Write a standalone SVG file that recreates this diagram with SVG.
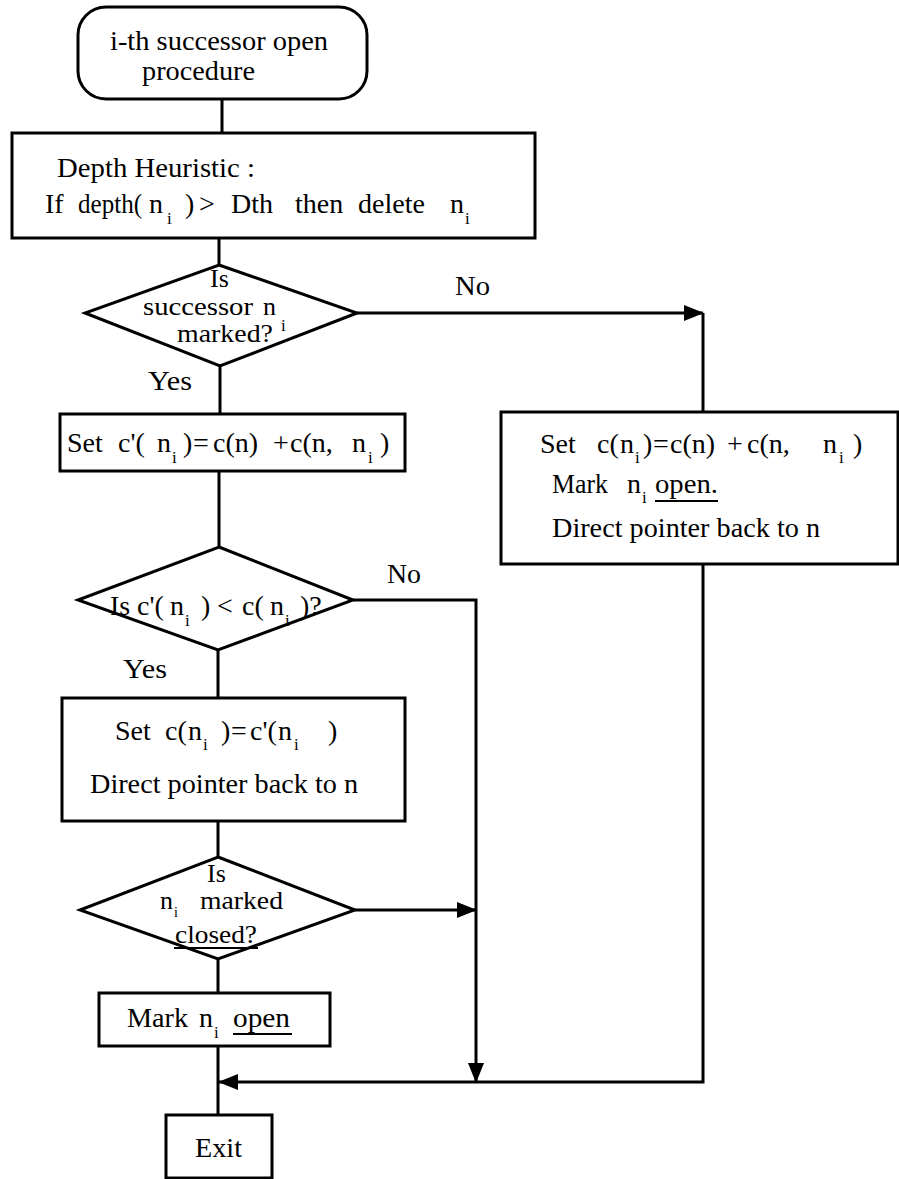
<svg xmlns="http://www.w3.org/2000/svg" width="899" height="1179" viewBox="0 0 899 1179">
<style>
.s{fill:#fff;stroke:#000;stroke-width:3}
.c{fill:none;stroke:#000;stroke-width:3}
text{font-family:"Liberation Serif","Times New Roman",serif;font-size:28px;fill:#000}
.d{font-size:26px}
.sub{font-size:17px}
.u{stroke:#000;stroke-width:2}
</style>
<defs>
<marker id="ah" markerWidth="20" markerHeight="16" refX="19" refY="8" orient="auto" markerUnits="userSpaceOnUse">
<path d="M0,0 L20,8 L0,16 Z" fill="#000"/>
</marker>
</defs>
<g id="connectors">
<path class="c" d="M222,99 V133"/>
<path class="c" d="M219,238 V265"/>
<path class="c" d="M220,366 V414"/>
<path class="c" d="M357,313 H703" marker-end="url(#ah)"/>
<path class="c" d="M703,313 V412"/>
<path class="c" d="M219,471 V547"/>
<path class="c" d="M353,600 H476 V1082" marker-end="url(#ah)"/>
<path class="c" d="M218,650 V698"/>
<path class="c" d="M218,821 V857"/>
<path class="c" d="M355,910 H476" marker-end="url(#ah)"/>
<path class="c" d="M218,959 V993"/>
<path class="c" d="M218,1046 V1115"/>
<path class="c" d="M703,564 V1082 H219" marker-end="url(#ah)"/>
<text x="148" y="390" textLength="44" lengthAdjust="spacingAndGlyphs">Yes</text>
<text x="455" y="295" textLength="35" lengthAdjust="spacingAndGlyphs">No</text>
<text x="123" y="678" textLength="44" lengthAdjust="spacingAndGlyphs">Yes</text>
<text x="387" y="583" textLength="34" lengthAdjust="spacingAndGlyphs">No</text>
</g>
<g id="start">
<rect class="s" x="78" y="7" width="289" height="92" rx="28"/>
<text x="110" y="50" textLength="218" lengthAdjust="spacingAndGlyphs">i-th successor open</text>
<text x="142" y="80" textLength="113" lengthAdjust="spacingAndGlyphs">procedure</text>
</g>
<g id="depth">
<rect class="s" x="12" y="133" width="523" height="105"/>
<text x="57" y="177" textLength="198" lengthAdjust="spacingAndGlyphs">Depth Heuristic :</text>
<text x="45" y="213">If</text>
<text x="78" y="213" textLength="64" lengthAdjust="spacingAndGlyphs">depth(</text>
<text x="149" y="213">n</text>
<text class="sub" x="167" y="224">i</text>
<text x="185" y="213">)</text>
<text x="199" y="213">&gt;</text>
<text x="231" y="213">Dth</text>
<text x="295" y="213">then</text>
<text x="358" y="213" textLength="67" lengthAdjust="spacingAndGlyphs">delete</text>
<text x="450" y="213">n</text>
<text class="sub" x="465" y="224">i</text>
</g>
<g id="marked">
<polygon class="s" points="219,265 357,313 220,366 85,313"/>
<text class="d" x="210" y="287">Is</text>
<text class="d" x="143" y="315" textLength="110" lengthAdjust="spacingAndGlyphs">successor</text>
<text class="d" x="263" y="315">n</text>
<text class="d" x="177" y="342" textLength="96" lengthAdjust="spacingAndGlyphs">marked?</text>
<text class="sub" x="281" y="331">i</text>
</g>
<g id="setcprime">
<rect class="s" x="60" y="414" width="345" height="57"/>
<text x="67" y="452">Set</text>
<text x="118" y="452">c'(</text>
<text x="157" y="452">n</text>
<text class="sub" x="172" y="463">i</text>
<text x="183" y="452">)</text>
<text x="193" y="452">=</text>
<text x="213" y="452">c(n)</text>
<text x="273" y="452">+</text>
<text x="290" y="452">c(n,</text>
<text x="352" y="452">n</text>
<text class="sub" x="368" y="463">i</text>
<text x="380" y="452">)</text>
</g>
<g id="newnode">
<rect class="s" x="501" y="412" width="397" height="152"/>
<text x="540" y="453">Set</text>
<text x="597" y="453">c(</text>
<text x="620" y="453">n</text>
<text class="sub" x="635" y="463">i</text>
<text x="643" y="453">)</text>
<text x="653" y="453">=</text>
<text x="670" y="453">c(n)</text>
<text x="727" y="453">+</text>
<text x="747" y="453">c(n,</text>
<text x="823" y="453">n</text>
<text class="sub" x="839" y="463">i</text>
<text x="853" y="453">)</text>
<text x="552" y="493" textLength="56" lengthAdjust="spacingAndGlyphs">Mark</text>
<text x="627" y="493">n</text>
<text class="sub" x="642" y="503">i</text>
<text x="655" y="493" textLength="63" lengthAdjust="spacingAndGlyphs">open.</text>
<line class="u" x1="655" y1="501" x2="718" y2="501"/>
<text x="552" y="537" textLength="268" lengthAdjust="spacingAndGlyphs">Direct pointer back to n</text>
</g>
<g id="compare">
<polygon class="s" points="219,547 353,600 218,650 78,600"/>
<text x="110" y="615">Is</text>
<text x="137" y="615">c'(</text>
<text x="170" y="615">n</text>
<text class="sub" x="185" y="626">i</text>
<text x="201" y="615">)</text>
<text x="217" y="615">&lt;</text>
<text x="242" y="615">c(</text>
<text x="270" y="615">n</text>
<text class="sub" x="285" y="626">i</text>
<text x="300" y="615">)?</text>
</g>
<g id="update">
<rect class="s" x="62" y="698" width="343" height="123"/>
<text x="115" y="740">Set</text>
<text x="165" y="740">c(</text>
<text x="188" y="740">n</text>
<text class="sub" x="203" y="750">i</text>
<text x="221" y="740">)</text>
<text x="231" y="740">=</text>
<text x="250" y="740">c'(</text>
<text x="278" y="740">n</text>
<text class="sub" x="294" y="750">i</text>
<text x="328" y="740">)</text>
<text x="90" y="793" textLength="268" lengthAdjust="spacingAndGlyphs">Direct pointer back to n</text>
</g>
<g id="closed">
<polygon class="s" points="218,857 355,910 218,959 80,910"/>
<text class="d" x="207" y="882">Is</text>
<text class="d" x="160" y="909">n</text>
<text class="sub" x="174" y="917" style="font-size:14px">i</text>
<text class="d" x="200" y="909" textLength="83" lengthAdjust="spacingAndGlyphs">marked</text>
<text class="d" x="175" y="943" textLength="82" lengthAdjust="spacingAndGlyphs">closed?</text>
<line class="u" x1="174" y1="948" x2="258" y2="948"/>
</g>
<g id="markopen">
<rect class="s" x="99" y="993" width="231" height="53"/>
<text x="127" y="1027" textLength="61" lengthAdjust="spacingAndGlyphs">Mark</text>
<text x="199" y="1027">n</text>
<text class="sub" x="214" y="1038">i</text>
<text x="233" y="1027" textLength="57" lengthAdjust="spacingAndGlyphs">open</text>
<line class="u" x1="233" y1="1034" x2="292" y2="1034"/>
</g>
<g id="exit">
<rect class="s" x="166" y="1115" width="106" height="63"/>
<text x="195" y="1157" textLength="47" lengthAdjust="spacingAndGlyphs">Exit</text>
</g>
</svg>
